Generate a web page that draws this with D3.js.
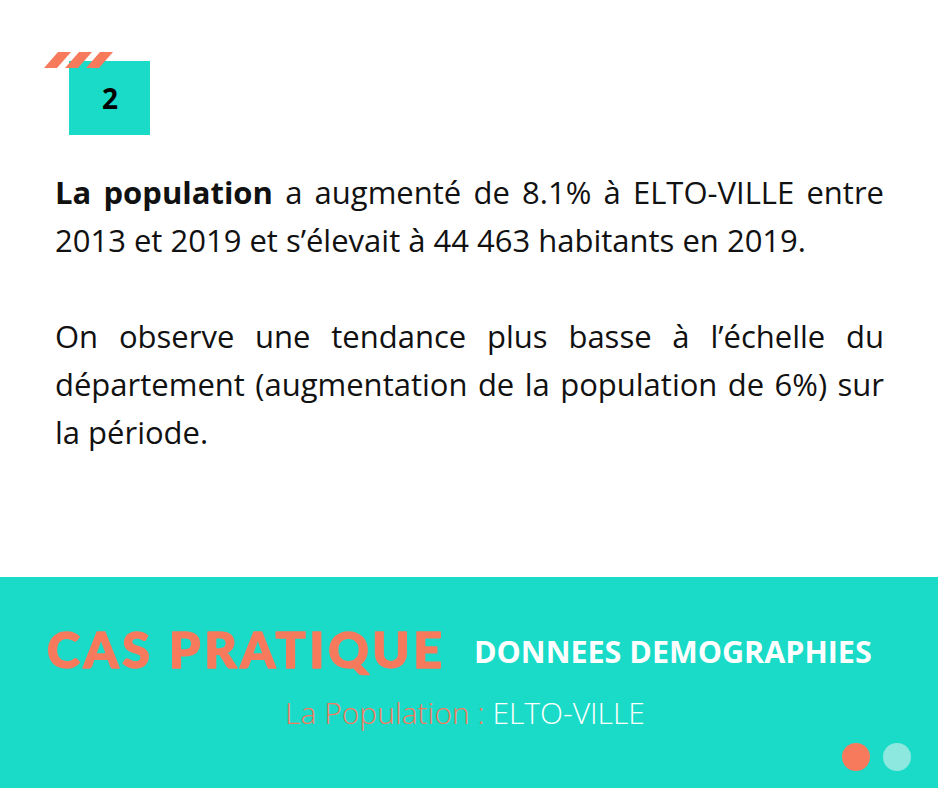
<!DOCTYPE html>
<html><head><meta charset="utf-8">
<script src="https://cdn.jsdelivr.net/npm/d3@7"></script>
<style>
body{margin:0;background:#fff;font-family:"Open Sans",sans-serif;}
#wrap{position:relative;width:940px;height:788px;overflow:hidden;}
svg{position:absolute;left:0;top:0;}
.para{position:absolute;left:55px;width:829px;font-size:31px;line-height:48px;text-align:justify;color:#111;}
</style></head><body>
<div id="wrap"></div>
<script>
// content
var badgeNumber = "2";
var paragraphs = [
  ["La population", " a augmenté de 8.1% à ELTO-VILLE entre 2013 et 2019 et s’élevait à 44 463 habitants en 2019."],
  ["", "On observe une tendance plus basse à l’échelle du département (augmentation de la population de 6%) sur la période."]
];
var title = "CAS PRATIQUE", subtitle = "DONNEES DEMOGRAPHIES";
var caption = ["La Population : ", "ELTO-VILLE"];
var dots = ["#f77a5d", "#8de8df"];

var teal = "#19dbc7", coral = "#f77a5d";
var wrap = d3.select("#wrap");
var svg = wrap.append("svg").attr("width", 940).attr("height", 788);

// bottom band
svg.append("rect").attr("x", 0).attr("y", 577).attr("width", 938).attr("height", 211).attr("fill", teal);

// badge
svg.append("rect").attr("x", 69).attr("y", 61).attr("width", 81).attr("height", 74).attr("fill", teal);
svg.append("text").attr("x", 110).attr("y", 109).attr("text-anchor", "middle")
  .attr("font-size", 28).attr("font-weight", 700).attr("fill", "#000").text(badgeNumber);
svg.selectAll(".stripe").data([0, 1, 2]).enter().append("polygon")
  .attr("fill", coral)
  .attr("points", function(i) { var x = 44 + i * 21; return [[x, 68], [x + 13, 68], [x + 27, 52], [x + 14, 52]].join(" "); });

// paragraphs
var tops = [168, 312];
wrap.selectAll(".para").data(paragraphs).enter().append("div").attr("class", "para")
  .style("top", function(d, i) { return tops[i] + "px"; })
  .html(function(d) { return (d[0] ? "<b>" + d[0] + "</b>" : "") + d[1]; });

// footer titles
svg.append("text").attr("x", 47).attr("y", 668).attr("font-family", "Lato, sans-serif")
  .attr("font-size", 50).attr("font-weight", 900).attr("letter-spacing", 3).attr("fill", coral)
  .attr("stroke", coral).attr("stroke-width", 1.5).attr("stroke-linejoin", "round")
  .attr("textLength", 398).text(title);
svg.append("text").attr("x", 474).attr("y", 663).attr("font-size", 30.5).attr("font-weight", 700)
  .attr("fill", "#fff").text(subtitle);
var cap = svg.append("text").attr("x", 465).attr("y", 724).attr("text-anchor", "middle")
  .attr("font-size", 30).attr("font-weight", 300);
cap.append("tspan").attr("fill", coral).text(caption[0]);
cap.append("tspan").attr("fill", "#fff").text(caption[1]);

svg.selectAll(".dot").data(dots).enter().append("circle")
  .attr("cx", function(d, i) { return 856 + i * 41; }).attr("cy", 757).attr("r", 14).attr("fill", function(d) { return d; });
</script></body></html>
